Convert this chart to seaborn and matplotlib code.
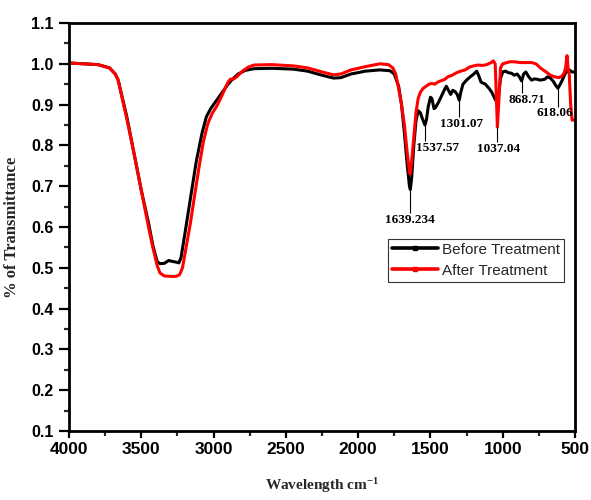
import matplotlib
matplotlib.use("Agg")
import matplotlib.pyplot as plt
from matplotlib.lines import Line2D
from matplotlib.ticker import MultipleLocator
import numpy as np
import pandas as pd
import seaborn as sns

# FTIR spectra (wavenumber in cm^-1, transmittance fraction)
before_wn = [4000, 3900, 3800, 3720, 3680, 3660, 3600, 3550, 3500, 3450, 3420, 3390,
             3370, 3340, 3310, 3290, 3260, 3240, 3225, 3200, 3160, 3120, 3080, 3050,
             3020, 2990, 2950, 2900, 2870, 2830, 2780, 2720, 2600, 2450, 2350, 2250,
             2170, 2120, 2050, 1950, 1850, 1780, 1750, 1720, 1700, 1680, 1660, 1645,
             1639, 1630, 1615, 1600, 1585, 1570, 1555, 1538, 1528, 1515, 1500, 1490,
             1475, 1465, 1445, 1425, 1405, 1390, 1375, 1360, 1345, 1330, 1315, 1301,
             1290, 1275, 1250, 1225, 1200, 1180, 1165, 1150, 1120, 1095, 1075, 1055,
             1040, 1030, 1015, 1000, 980, 960, 940, 920, 900, 885, 869, 855, 840, 820,
             800, 780, 760, 740, 710, 690, 670, 650, 635, 618, 605, 585, 570, 555, 540,
             520, 500]
before_t = [1.002, 1.000, 0.998, 0.990, 0.975, 0.960, 0.870, 0.780, 0.690, 0.610, 0.555, 0.515,
            0.510, 0.511, 0.518, 0.516, 0.514, 0.512, 0.525, 0.580, 0.670, 0.760, 0.830, 0.870,
            0.890, 0.905, 0.925, 0.950, 0.962, 0.975, 0.984, 0.988, 0.989, 0.987, 0.982, 0.972,
            0.965, 0.966, 0.975, 0.982, 0.985, 0.983, 0.975, 0.945, 0.900, 0.830, 0.750, 0.700,
            0.692, 0.720, 0.800, 0.860, 0.885, 0.880, 0.865, 0.850, 0.862, 0.895, 0.918, 0.915,
            0.890, 0.893, 0.905, 0.920, 0.935, 0.945, 0.935, 0.925, 0.935, 0.932, 0.925, 0.911,
            0.930, 0.950, 0.960, 0.968, 0.975, 0.982, 0.970, 0.955, 0.950, 0.940, 0.930, 0.915,
            0.905, 0.920, 0.965, 0.980, 0.982, 0.978, 0.977, 0.972, 0.975, 0.968, 0.958, 0.975,
            0.980, 0.968, 0.960, 0.963, 0.962, 0.960, 0.962, 0.968, 0.965, 0.957, 0.948, 0.940,
            0.948, 0.962, 0.975, 0.982, 0.985, 0.980, 0.980]

after_wn = [4000, 3900, 3800, 3720, 3680, 3660, 3600, 3550, 3500, 3450, 3420, 3390,
            3370, 3340, 3300, 3260, 3235, 3215, 3190, 3160, 3130, 3100, 3070, 3040,
            3010, 2975, 2945, 2920, 2900, 2885, 2860, 2840, 2800, 2760, 2720, 2600,
            2450, 2350, 2250, 2170, 2120, 2050, 1950, 1850, 1790, 1760, 1740, 1720,
            1700, 1680, 1660, 1645, 1640, 1630, 1615, 1600, 1585, 1570, 1550, 1530,
            1510, 1490, 1470, 1450, 1430, 1400, 1380, 1350, 1320, 1290, 1260, 1230,
            1200, 1170, 1140, 1110, 1080, 1065, 1052, 1044, 1037, 1028, 1015, 1000,
            980, 950, 920, 880, 840, 800, 770, 740, 700, 670, 640, 610, 590, 575, 565,
            555, 548, 540, 530, 520, 500]
after_t = [1.002, 1.000, 0.998, 0.990, 0.975, 0.960, 0.865, 0.780, 0.690, 0.600, 0.550, 0.505,
           0.487, 0.480, 0.479, 0.479, 0.483, 0.500, 0.550, 0.610, 0.680, 0.748, 0.810, 0.853,
           0.878, 0.898, 0.920, 0.940, 0.955, 0.962, 0.963, 0.968, 0.982, 0.992, 0.997, 0.998,
           0.995, 0.990, 0.980, 0.973, 0.975, 0.985, 0.993, 1.000, 0.998, 0.990, 0.975, 0.940,
           0.900, 0.850, 0.780, 0.735, 0.730, 0.760, 0.820, 0.880, 0.915, 0.930, 0.940, 0.945,
           0.950, 0.952, 0.950, 0.955, 0.958, 0.962, 0.968, 0.972, 0.978, 0.982, 0.985, 0.992,
           0.995, 0.997, 0.996, 0.998, 1.003, 1.007, 1.000, 0.920, 0.845, 0.900, 0.990, 1.000,
           1.002, 1.005, 1.005, 1.003, 1.003, 1.003, 1.000, 0.990, 0.980, 0.972, 0.968, 0.966,
           0.970, 0.978, 0.990, 1.020, 0.990, 0.975, 0.900, 0.862, 0.862]

series_names = ["Before Treatment", "After Treatment"]
series_colors = ["black", "red"]

# Peak labels: wavenumber, top and bottom of the leader line, text top, text x shift (pt)
peak_labels = ["1639.234", "1537.57", "1301.07", "1037.04", "868.71", "618.06"]
peak_wn = [1639.234, 1537.57, 1301.07, 1037.04, 868.71, 618.06]
leader_top = [0.692, 0.850, 0.911, 0.845, 0.958, 0.940]
leader_bottom = [0.634, 0.811, 0.870, 0.809, 0.928, 0.895]
text_top = [0.631, 0.808, 0.867, 0.807, 0.926, 0.893]
text_shift = [0, 9, 2, 1, 4, -2]

df = pd.concat([
    pd.DataFrame({"wn": before_wn, "T": before_t, "sample": series_names[0]}),
    pd.DataFrame({"wn": after_wn, "T": after_t, "sample": series_names[1]}),
], ignore_index=True)

sns.set_style("ticks")
plt.rcParams["font.family"] = ["Liberation Sans", "DejaVu Sans"]
plt.rcParams["mathtext.fontset"] = "custom"
plt.rcParams["mathtext.rm"] = "Liberation Serif:bold"
plt.rcParams["mathtext.bf"] = "Liberation Serif:bold"
plt.rcParams["mathtext.default"] = "bf"

fig = plt.figure(figsize=(5.91, 5.0), dpi=100)
ax = fig.add_axes([69 / 591, 1 - 431 / 500, 506 / 591, 408 / 500])

sns.lineplot(data=df, x="wn", y="T", hue="sample", hue_order=series_names,
             palette=dict(zip(series_names, series_colors)), linewidth=2.2,
             legend=False, ax=ax, sort=False, estimator=None)

ax.set_xlim(4000, 500)
ax.set_ylim(0.1, 1.1)
ax.xaxis.set_major_locator(MultipleLocator(500))
ax.xaxis.set_minor_locator(MultipleLocator(250))
ax.yaxis.set_major_locator(MultipleLocator(0.1))
ax.yaxis.set_minor_locator(MultipleLocator(0.05))
ax.yaxis.set_major_formatter(matplotlib.ticker.FormatStrFormatter("%.1f"))

for side in ["left", "right", "top", "bottom"]:
    ax.spines[side].set_visible(True)
    ax.spines[side].set_linewidth(2.0)
    ax.spines[side].set_color("black")

ax.tick_params(axis="y", which="major", direction="out", length=7, width=1.6,
               pad=4, labelsize=11.5, colors="black")
ax.tick_params(axis="y", which="minor", direction="out", length=3.5, width=1.6)
ax.tick_params(axis="x", which="major", direction="out", length=5, width=1.6,
               pad=3, labelsize=12.5, colors="black")
ax.tick_params(axis="x", which="minor", direction="out", length=3.5, width=1.6)
for lab in ax.get_xticklabels() + ax.get_yticklabels():
    lab.set_fontweight("bold")

ax.set_xlabel("Wavelength cm$^{-1}$", fontsize=11, fontweight="bold",
              family="Liberation Serif", labelpad=14)
ax.set_ylabel("% of Transmittance", fontsize=12, fontweight="bold",
              family="Liberation Serif", labelpad=8)

# Peak leader lines and labels
ax.vlines(peak_wn, leader_bottom, leader_top, colors="black", linewidth=0.8, zorder=3)
for lab, wn, yt, dx in zip(peak_labels, peak_wn, text_top, text_shift):
    ax.annotate(lab, xy=(wn, yt), xytext=(dx, 0), textcoords="offset points",
                ha="center", va="top", fontsize=9.5, fontweight="bold",
                family="Liberation Serif", color="black")

handles = [Line2D([], [], color=c, linewidth=2.6, marker="s", markersize=2.5,
                  markevery=[1]) for c in series_colors]
for h in handles:
    h.set_data([0, 0.5, 1], [0, 0, 0])
leg = ax.legend(handles, series_names, loc="upper right",
                bbox_to_anchor=((564 - 69) / 506, (431 - 239) / 408),
                borderaxespad=0, frameon=True, fancybox=False, edgecolor="black",
                fontsize=11, handlelength=3.0, handletextpad=0.3,
                labelspacing=0.45, borderpad=0.25)
leg.get_frame().set_linewidth(0.8)

fig.savefig("out.png", dpi=100)
